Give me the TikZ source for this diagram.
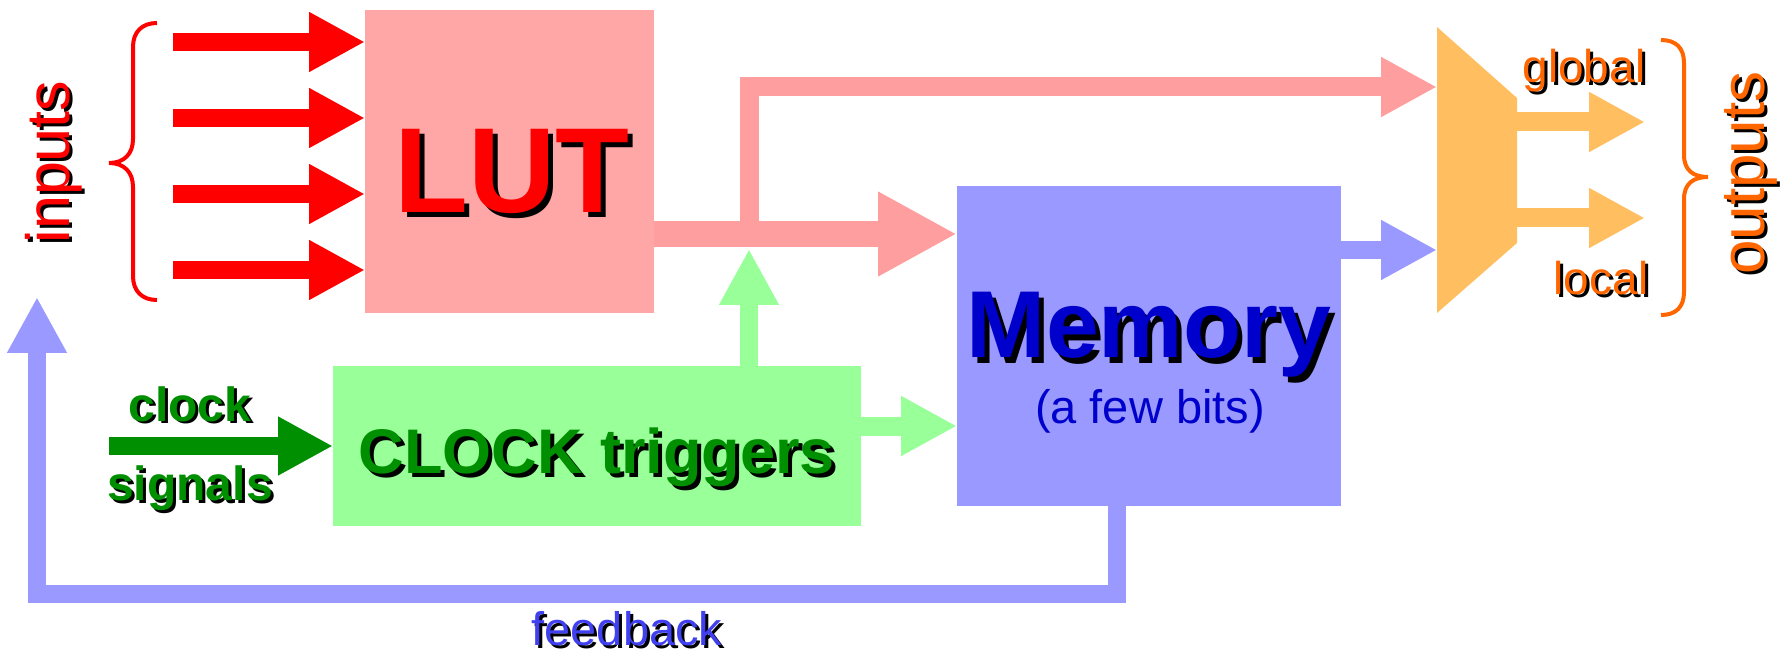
\documentclass[tikz,border=0pt]{standalone}
\usepackage{fontspec}
\setmainfont{Liberation Sans}
\usetikzlibrary{arrows.meta}

\definecolor{lutfill}{HTML}{FFA6A6}
\definecolor{lutline}{HTML}{FF9E9E}
\definecolor{memfill}{HTML}{9999FF}
\definecolor{memtext}{HTML}{0000CC}
\definecolor{fbtext}{HTML}{4040F0}
\definecolor{trigfill}{HTML}{99FF99}
\definecolor{clkgreen}{HTML}{008F00}
\definecolor{muxfill}{HTML}{FFBF60}
\definecolor{outorange}{HTML}{FF6600}

% text with a black drop shadow: [offset]{options}{name}{position}{text}
\newcommand{\dropnode}[5][3]{%
  \node [#2, text=black] (#3-sh) at ([shift={(#1,#1)}]#4) {#5};
  \node [#2] (#3) at (#4) {#5};
}

\begin{document}
\begin{tikzpicture}[x=1pt,y=-1pt,
    box/.style={rectangle,inner sep=0pt,outer sep=0pt},
    blk/.style 2 args={line width=#1,-{Triangle[length=#2,width=#2]}},
    fs/.style={font=\fontsize{#1}{#1}\selectfont},
    fsb/.style={font=\fontsize{#1}{#1}\selectfont\bfseries},
    lbl/.style={inner sep=0pt,anchor=base}]
    \useasboundingbox (0,0) rectangle (1792,652);

    \node [box, fill=lutfill, minimum width=289pt, minimum height=303pt] (lut) at (509.5,161.5) {};
    \node [box, fill=memfill, minimum width=384pt, minimum height=320pt] (mem) at (1149,346) {};
    \node [box, fill=trigfill, minimum width=528pt, minimum height=160pt] (trig) at (597,446) {};
    \node [box, minimum width=80pt, minimum height=286pt] (mux) at (1477,170) {};
    \fill [muxfill] (mux.north west) -- ([yshift=-71pt]mux.north east) -- ([yshift=70pt]mux.south east) -- (mux.south west) -- cycle;

    \foreach \y [count=\i] in {42,118,194,270} {
      \coordinate (in\i) at (173,\y);
      \draw [blk={18pt}{56pt}, red] (in\i) -- (in\i -| lut.west);
    }
    \draw [red, line width=4pt] (157,23) .. controls (142,23) and (133,32) .. (133,47) -- (133,139)
      .. controls (133,154) and (124,163) .. (109,163) .. controls (124,163) and (133,172) .. (133,187)
      -- (133,276) .. controls (133,291) and (142,300) .. (157,300);

    \coordinate (lutout) at ([yshift=-72.5pt]lut.east);
    \coordinate (split) at ([xshift=95pt]lutout);
    \coordinate (glob) at ([yshift=83pt]mux.west);
    \coordinate (loc) at ([yshift=-80pt]mux.west);
    \draw [blk={26pt}{79pt}, lutline] (lutout) -- (lutout -| mem.west);
    \draw [blk={19pt}{56pt}, lutline] (split) |- (glob);
    \draw [blk={18pt}{56pt}, memfill] (loc -| mem.east) -- (loc);

    \coordinate (trigout) at ([yshift=20pt]trig.east);
    \coordinate (clkin) at (109,446);
    \draw [blk={18pt}{56pt}, trigfill] (trig.north -| split) -- ([yshift=-15pt]split);
    \draw [blk={19pt}{56pt}, trigfill] (trigout) -- (trigout -| mem.west);
    \draw [blk={18pt}{55pt}, clkgreen] (clkin) -- (trig.west);

    \foreach \y [count=\i] in {122,218} {
      \coordinate (out\i) at (1645,\y);
      \draw [blk={19pt}{56pt}, muxfill] (out\i -| mux.east) -- (out\i);
    }
    \draw [outorange, line width=4pt] (1661,40) .. controls (1676,40) and (1684,48) .. (1684,63) -- (1684,155)
      .. controls (1684,170) and (1693,177) .. (1708,177) .. controls (1693,177) and (1684,184) .. (1684,199)
      -- (1684,292) .. controls (1684,307) and (1676,315) .. (1661,315);

    \coordinate (fbtip) at (37,297);
    \draw [blk={18pt}{56pt}, memfill] ([xshift=-32pt]mem.south) -- ++(0,88) -| (fbtip);

    \dropnode{fs=61, red, rotate=90}{inputs}{54,162}{inputs}
    \dropnode[5]{fsb=121, red, lbl}{luttext}{512,213}{LUT}
    \dropnode[5]{fsb=95, memtext, lbl}{memtitle}{1149,358}{Memory}
    \node [fs=47, memtext, lbl] (bits) at (1150,423) {(a few bits)};
    \dropnode[4]{fsb=63, clkgreen, lbl}{trigtext}{597,473}{CLOCK triggers}
    \dropnode{fsb=48, clkgreen, lbl}{clock}{190,421}{clock}
    \dropnode{fsb=48, clkgreen, lbl}{signals}{190,500}{signals}
    \dropnode{fs=46, outorange, lbl}{global}{1584,83}{global}
    \dropnode{fs=46, outorange, lbl}{local}{1601,295}{local}
    \dropnode{fs=62, outorange, rotate=90}{outputs}{1751,173}{outputs}
    \dropnode{fs=47, fbtext, lbl}{feedback}{627,645}{feedback}
  \end{tikzpicture}
\end{document}
